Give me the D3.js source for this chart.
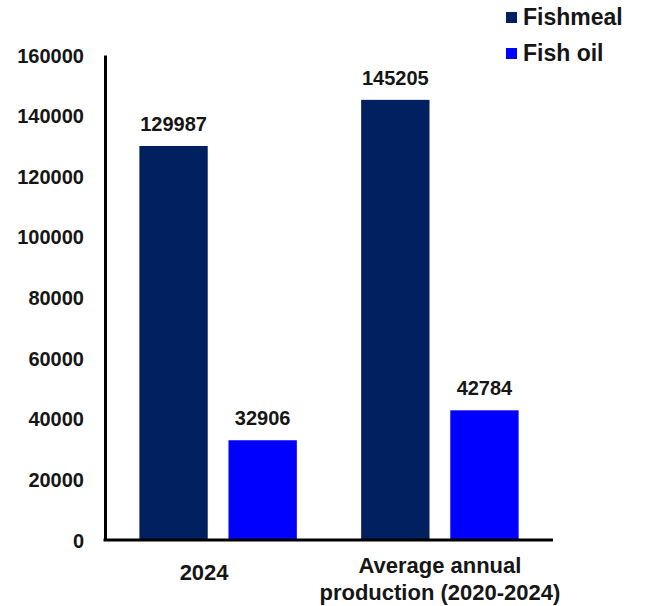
<!DOCTYPE html>
<html>
<head>
<meta charset="utf-8">
<script src="https://cdn.jsdelivr.net/npm/d3@7"></script>
<style>
  html, body { margin: 0; padding: 0; background: #fff; }
  svg text { font-family: "Liberation Sans", Arial, sans-serif; font-weight: bold; fill: #161616; }
</style>
</head>
<body>
<svg id="chart" width="645" height="606"></svg>
<script>
// data
const categories = ["2024", "Average annual production (2020-2024)"];
const categoryLines = [["2024"], ["Average annual", "production (2020-2024)"]];
const seriesNames = ["Fishmeal", "Fish oil"];
const fishmeal = [129987, 145205];
const fishOil = [32906, 42784];
const yTicks = [0, 20000, 40000, 60000, 80000, 100000, 120000, 140000, 160000];
const colors = ["#002060", "#0000ff"];

const svg = d3.select("#chart");
const margin = { top: 55, right: 92, bottom: 66, left: 105 };
const width = 645, height = 606;

const y = d3.scaleLinear().domain([0, 160000]).range([height - margin.bottom, margin.top]);
const x0 = d3.scaleBand().domain(categories).range([margin.left, width - margin.right])
    .paddingInner(0.29).paddingOuter(0.155);
const x1 = d3.scaleBand().domain(seriesNames).range([0, x0.bandwidth()]).paddingInner(0.233);

const rows = categories.map((c, i) => ({ cat: c, values: [fishmeal[i], fishOil[i]] }));

// bars
const groups = svg.selectAll("g.grp").data(rows).join("g")
    .attr("class", "grp")
    .attr("transform", d => `translate(${x0(d.cat)},0)`);

groups.selectAll("rect").data(d => d.values.map((v, i) => ({ name: seriesNames[i], v, i })))
    .join("rect")
    .attr("x", d => x1(d.name))
    .attr("y", d => y(d.v))
    .attr("width", x1.bandwidth())
    .attr("height", d => y(0) - y(d.v))
    .attr("fill", d => colors[d.i]);

// value labels
groups.selectAll("text.val").data(d => d.values.map((v, i) => ({ name: seriesNames[i], v })))
    .join("text")
    .attr("class", "val")
    .attr("x", d => x1(d.name) + x1.bandwidth() / 2)
    .attr("y", d => y(d.v) - 15)
    .attr("text-anchor", "middle")
    .style("font-size", "20px")
    .text(d => d.v);

// y axis
const yAxis = svg.append("g").attr("transform", `translate(${margin.left},0)`)
    .call(d3.axisLeft(y).tickValues(yTicks).tickSize(0).tickPadding(21).tickFormat(d => d));
yAxis.select(".domain").attr("stroke", "#000").attr("stroke-width", 3);
yAxis.selectAll("text").style("font-size", "20px").attr("dy", "0.35em");

// x axis
const xAxis = svg.append("g").attr("transform", `translate(0,${y(0)})`)
    .call(d3.axisBottom(x0).tickSize(0).tickFormat(""));
xAxis.select(".domain").attr("stroke", "#000").attr("stroke-width", 3)
    .attr("d", `M${margin.left - 1.5},0H${width - margin.right}`);

const xl = svg.append("g");
categories.forEach((c, i) => {
  const lines = categoryLines[i];
  const t = xl.append("text")
      .attr("text-anchor", "middle")
      .style("font-size", "22px");
  const startY = lines.length === 1 ? y(0) + 40 : y(0) + 33;
  lines.forEach((ln, j) => {
    t.append("tspan")
      .attr("x", x0(c) + x0.bandwidth() / 2 + (lines.length === 1 ? -14 : 0))
      .attr("y", startY + j * 27)
      .text(ln);
  });
});

// legend
const legend = svg.append("g").attr("transform", "translate(506,0)");
seriesNames.forEach((s, i) => {
  legend.append("rect").attr("x", 0).attr("y", 12 + i * 36).attr("width", 11).attr("height", 11).attr("fill", colors[i]);
  legend.append("text").attr("x", 17).attr("y", 25 + i * 36).style("font-size", "23px").text(s);
});
</script>
</body>
</html>
